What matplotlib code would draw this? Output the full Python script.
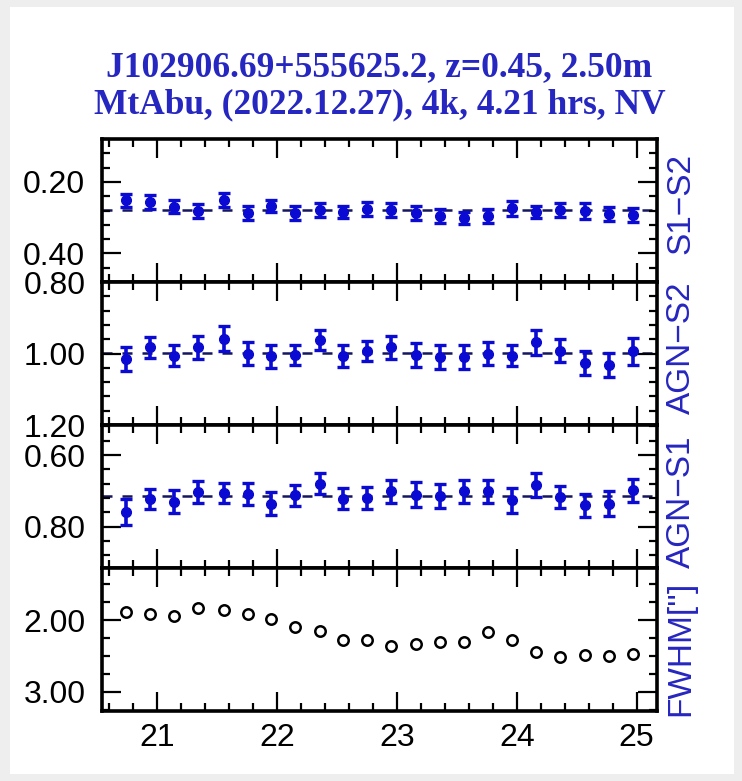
import matplotlib
matplotlib.use('Agg')
import matplotlib.pyplot as plt
from matplotlib.patches import Rectangle
from matplotlib.ticker import MultipleLocator, FormatStrFormatter
import numpy as np

# time of each frame (UT hours)
ut = [20.74, 20.94, 21.14, 21.34, 21.56, 21.76, 21.95, 22.15, 22.36, 22.55, 22.75,
      22.95, 23.16, 23.36, 23.56, 23.76, 23.96, 24.16, 24.36, 24.57, 24.77, 24.97]

# S1-S2 differential magnitudes
s1_s2 = [0.252, 0.256, 0.269, 0.281, 0.250, 0.287, 0.268, 0.287, 0.278, 0.285, 0.275,
         0.278, 0.287, 0.296, 0.302, 0.296, 0.274, 0.285, 0.278, 0.281, 0.289, 0.293]
s1_s2_err = [0.019, 0.020, 0.017, 0.019, 0.019, 0.019, 0.017, 0.019, 0.019, 0.017, 0.020,
             0.019, 0.019, 0.020, 0.017, 0.019, 0.020, 0.017, 0.019, 0.022, 0.020, 0.019]

# AGN-S2
agn_s2 = [1.016, 0.983, 1.006, 0.983, 0.959, 1.000, 1.008, 1.004, 0.962, 1.007, 0.994,
          0.983, 1.004, 1.009, 1.009, 1.000, 1.006, 0.969, 0.992, 1.027, 1.032, 0.994]
agn_s2_err = [0.033, 0.030, 0.029, 0.032, 0.035, 0.031, 0.033, 0.029, 0.027, 0.030, 0.028,
              0.032, 0.033, 0.033, 0.033, 0.031, 0.029, 0.034, 0.032, 0.033, 0.034, 0.037]

# AGN-S1
agn_s1 = [0.759, 0.722, 0.731, 0.703, 0.705, 0.708, 0.736, 0.713, 0.680, 0.722, 0.720,
          0.702, 0.711, 0.714, 0.702, 0.702, 0.727, 0.683, 0.717, 0.740, 0.736, 0.699]
agn_s1_err = [0.036, 0.028, 0.032, 0.031, 0.028, 0.031, 0.032, 0.029, 0.029, 0.029, 0.030,
              0.032, 0.035, 0.033, 0.032, 0.032, 0.034, 0.034, 0.031, 0.032, 0.034, 0.033]

# seeing FWHM (arcsec)
fwhm = [1.88, 1.92, 1.94, 1.83, 1.86, 1.91, 1.99, 2.09, 2.15, 2.27, 2.27,
        2.36, 2.33, 2.30, 2.30, 2.16, 2.27, 2.44, 2.52, 2.49, 2.50, 2.47]

title1 = "J102906.69+555625.2, z=0.45, 2.50m"
title2 = "MtAbu, (2022.12.27), 4k, 4.21 hrs, NV"
right_labels = ["S1\u2212S2", "AGN\u2212S2", "AGN\u2212S1", "FWHM['']"]
right_label_y = [203, 348, 502, 648]   # centre of each label, pixels from top

W, H = 742, 781
blue = '#0a0ad2'
tblue = '#2626c0'

fig = plt.figure(figsize=(W / 100, H / 100), dpi=100)
fig.patch.set_facecolor('#eeeeee')
fig.add_artist(Rectangle((10 / W, 7 / H), 724 / W, 767 / H, transform=fig.transFigure,
                         fc='white', ec='none', zorder=-10))

# panel geometry in pixels
left, right = 102, 657
top, bottom = 139, 711
ph = (bottom - top) / 4

panels = [
    (s1_s2, s1_s2_err, (0.48, 0.08), 0.2, 0.04),
    (agn_s2, agn_s2_err, (1.2, 0.8), 0.2, 0.04),
    (agn_s1, agn_s1_err, (0.916, 0.516), 0.2, 0.04),
    (fwhm, None, (3.27, 1.27), 1.0, 0.25),
]

axes = []
for i, (vals, errs, ylim, major, minor) in enumerate(panels):
    y0 = top + i * ph
    ax = fig.add_axes([left / W, 1 - (y0 + ph) / H, (right - left) / W, ph / H])
    if errs is not None:
        ax.axhline(np.mean(vals), color='#151560', lw=1.8, dashes=(4, 4), zorder=1)
        ax.errorbar(ut, vals, yerr=errs, fmt='o', ms=7, color=blue, ecolor=blue,
                    elinewidth=2.6, capsize=4.5, capthick=2.4, zorder=3)
    else:
        ax.plot(ut, vals, 'o', ms=7.5, mfc='none', mec='black', mew=1.8)
    ax.set_xlim(20.54, 25.17)
    ax.set_ylim(*ylim)
    ax.xaxis.set_major_locator(MultipleLocator(1))
    ax.xaxis.set_minor_locator(MultipleLocator(0.2))
    ax.yaxis.set_major_locator(MultipleLocator(major))
    ax.yaxis.set_minor_locator(MultipleLocator(minor))
    ax.yaxis.set_major_formatter(FormatStrFormatter('%.2f'))
    ax.tick_params(which='both', direction='in', top=True, right=True, width=1.6,
                   labelsize=23, color='black')
    ax.tick_params(which='major', length=14)
    ax.tick_params(which='minor', length=6)
    ax.tick_params(axis='y', pad=12)
    ax.tick_params(axis='x', pad=9)
    for lab in ax.get_xticklabels() + ax.get_yticklabels():
        lab.set_family('Liberation Sans')
    if i < 3:
        ax.tick_params(labelbottom=False)
    for sp in ax.spines.values():
        sp.set_linewidth(2.6)
    # label on the right side
    fig.text(681 / W, 1 - right_label_y[i] / H, right_labels[i], rotation=90,
             ha='center', va='center', color=tblue, fontsize=24, family='Liberation Sans')
    axes.append(ax)

cx = (left + right) / 2 / W
fig.text(cx, 1 - 76 / H, title1, ha='center', va='baseline', color=tblue,
         fontsize=25.5, family='Liberation Serif', weight='bold')
fig.text(cx, 1 - 113 / H, title2, ha='center', va='baseline', color=tblue,
         fontsize=25.5, family='Liberation Serif', weight='bold')

fig.savefig('out.png', dpi=100, facecolor=fig.get_facecolor())
